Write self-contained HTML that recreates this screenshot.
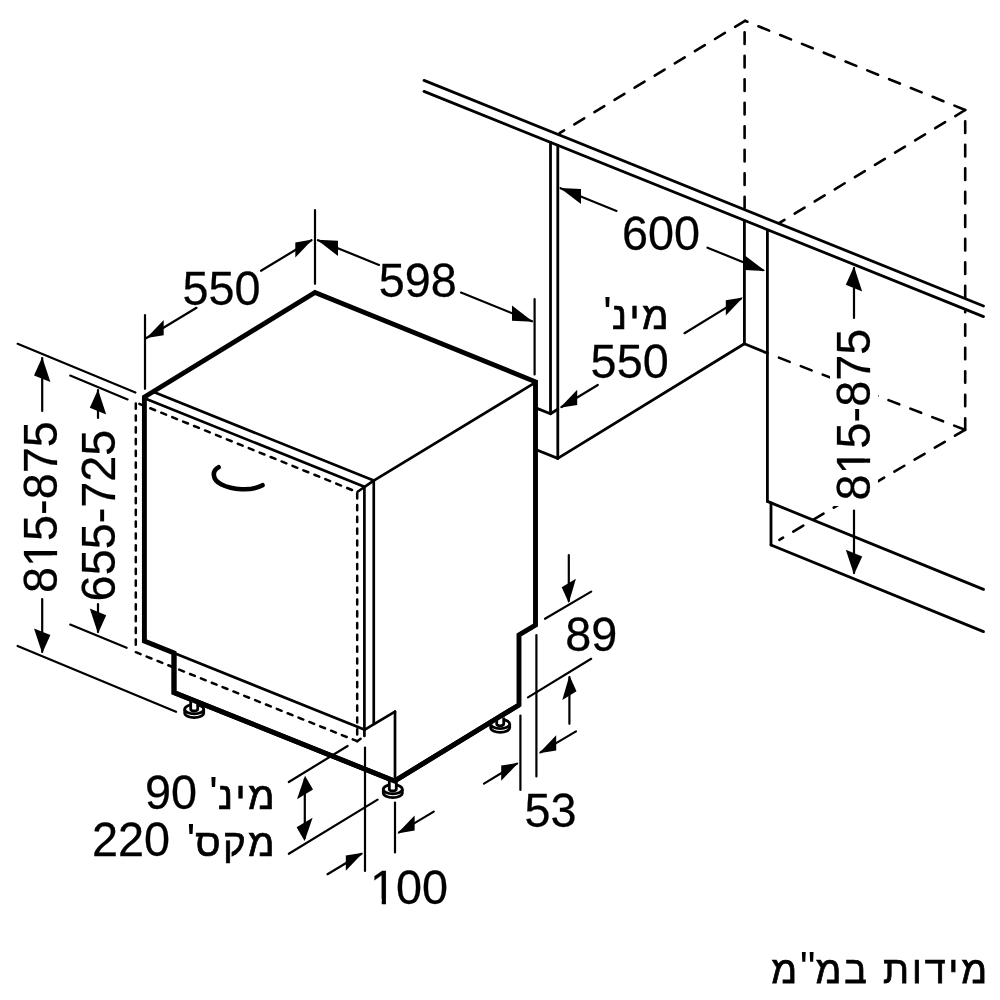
<!DOCTYPE html>
<html lang="he">
<head>
<meta charset="utf-8">
<title>מידות במ"מ</title>
<style>
html,body{margin:0;padding:0;background:#fff;}
body{width:1000px;height:1000px;overflow:hidden;}
svg{display:block;filter:grayscale(1);}
text{font-family:"Liberation Sans",sans-serif;font-size:46.8px;fill:#000;}
.n{stroke:#000;stroke-width:0.25;}
.hl{font-size:38.6px;letter-spacing:2.5px;stroke:#000;stroke-width:0.7;}
.hp{font-size:46.8px;}
.cl{font-size:37.6px;letter-spacing:2.95px;stroke:#000;stroke-width:0.75;}
.cp{font-size:43.5px;}
.k{fill:none;stroke:#000;stroke-width:4.9;stroke-linejoin:miter;stroke-linecap:butt;}
.b{fill:none;stroke:#000;stroke-width:2.7;stroke-linecap:round;}
.c{fill:none;stroke:#000;stroke-width:2.8;stroke-linecap:round;stroke-linejoin:round;}
.d{fill:none;stroke:#000;stroke-width:2.2;stroke-linecap:round;}
.ds{fill:none;stroke:#000;stroke-width:2.5;stroke-dasharray:5.2 6.6;stroke-linecap:round;}
.dl{fill:none;stroke:#000;stroke-width:2.6;stroke-dasharray:11.6 11.9;stroke-linecap:round;}
.h{fill:none;stroke:#000;stroke-width:4.6;stroke-linecap:round;}
.ah{fill:#000;stroke:none;}
.ft path,.ft ellipse{stroke:#000;stroke-width:2.8;}
</style>
</head>
<body>
<svg width="1000" height="1000" viewBox="0 0 1000 1000">
<rect x="0" y="0" width="1000" height="1000" fill="#fff"/>
<polygon class="k" points="315,292.5 535.5,381.8 535.5,625 519,635 519,705 394.5,781 174,692.5 174,653 144.4,641 144.4,397"/>
<line class="b" x1="155" y1="392.5" x2="373.75" y2="480.6"/>
<line class="b" x1="147" y1="399.2" x2="364.4" y2="486.8"/>
<line class="b" x1="373.75" y1="480.6" x2="535.5" y2="382.4"/>
<line class="b" x1="373.75" y1="480.6" x2="364.6" y2="486.8"/>
<line class="b" x1="364.4" y1="486.8" x2="364.4" y2="736"/>
<line class="b" x1="373.75" y1="480.6" x2="373.75" y2="723.4"/>
<line class="b" x1="174" y1="653" x2="364.8" y2="729.8"/>
<line class="b" x1="364.4" y1="729.8" x2="395" y2="711.7"/>
<line class="b" x1="395" y1="711.7" x2="395" y2="781"/>
<path class="ds" d="M135.8,403.6 L135.8,651"/>
<path class="ds" d="M135.8,652.2 L357.2,741.2" style="stroke-dasharray:5.2 6.49"/>
<path class="ds" d="M357,492 L135.8,402.4" style="stroke-dashoffset:6.4"/>
<path class="ds" d="M357.2,493.2 L357.2,736"/>
<path class="ds" d="M357.2,741.2 L360.6,738.8" style="stroke-dasharray:none"/>
<path class="ds" d="M357.6,491.8 L363,488" style="stroke-dasharray:none"/>
<path class="h" d="M218.6,467.2 C211.8,470.6 212,479.8 221,484.2 C232.5,489.9 250.5,491.6 262.5,485.2"/>
<g class="ft">
<path d="M184.7,709.3 v3.7 a9.5,4.6 0 0 0 19,0 v-3.7" fill="#fff"/>
<ellipse cx="194.2" cy="709.3" rx="9.5" ry="4.6" fill="#fff"/>
<path d="M190.7,700.3 v9 a3.5,1.7 0 0 0 7,0 v-9" fill="#fff"/>
</g>
<g class="ft">
<path d="M383.3,789.3 v3.7 a9.5,4.6 0 0 0 19,0 v-3.7" fill="#fff"/>
<ellipse cx="392.8" cy="789.3" rx="9.5" ry="4.6" fill="#fff"/>
<path d="M389.3,780.3 v9 a3.5,1.7 0 0 0 7,0 v-9" fill="#fff"/>
</g>
<g class="ft">
<path d="M490.7,724.1 v3.7 a9.5,4.6 0 0 0 19,0 v-3.7" fill="#fff"/>
<ellipse cx="500.2" cy="724.1" rx="9.5" ry="4.6" fill="#fff"/>
<path d="M496.7,717.6 v6.5 a3.5,1.7 0 0 0 7,0 v-6.5" fill="#fff"/>
</g>
<polyline class="k" points="174,653 174,692.5 394.5,781 519,705"/>
<line class="c" x1="424" y1="80.4" x2="983.5" y2="306"/>
<line class="c" x1="424" y1="91.4" x2="983.5" y2="316.6"/>
<line class="c" x1="550.5" y1="142.5" x2="550.5" y2="413.8"/>
<line class="c" x1="557.8" y1="145.5" x2="557.8" y2="458.4"/>
<polyline class="c" points="537.5,408.6 550.5,413.8 557.8,409.2"/>
<line class="c" x1="537.5" y1="450.2" x2="557.8" y2="458.4"/>
<line class="c" x1="557.8" y1="458.4" x2="744.4" y2="343.8"/>
<line class="c" x1="744.4" y1="221" x2="744.4" y2="343.8"/>
<line class="c" x1="767.4" y1="230.4" x2="767.4" y2="501.4"/>
<line class="c" x1="744.4" y1="343.8" x2="767.4" y2="353.2"/>
<line class="c" x1="767.4" y1="501.4" x2="983.5" y2="589.4"/>
<line class="c" x1="771" y1="503" x2="771" y2="545"/>
<line class="c" x1="771" y1="545" x2="983.5" y2="631.6"/>
<path class="dl" d="M745,20.8 L559.6,133.2"/>
<path class="dl" d="M965.2,110 L745,20.8"/>
<path class="dl" d="M744.6,32.3 L744.6,208.6"/>
<path class="dl" d="M965.2,110 L779,223.2"/>
<path class="dl" d="M965.2,121.3 L965.2,297.4"/>
<path class="dl" d="M965.2,429.8 L965.2,311"/>
<path class="dl" d="M965,429.8 L770.5,354.4"/>
<path class="dl" d="M965,429.8 L779.4,539.8"/>
<line class="d" x1="145" y1="315" x2="145" y2="388.8"/>
<line class="d" x1="315" y1="210" x2="315" y2="283.8"/>
<line class="d" x1="146.5" y1="338" x2="196.5" y2="307.8"/>
<line class="d" x1="261" y1="270.8" x2="311.5" y2="240.2"/>
<polygon class="ah" points="146.5,338 163.7,319.99 163.7,335.19"/>
<polygon class="ah" points="312.5,239.6 295.3,242.41 295.3,257.61"/>
<text class="n" transform="translate(182.4 305) scale(1 1.02)">550</text>
<line class="d" x1="534.6" y1="299" x2="534.6" y2="374.5"/>
<line class="d" x1="318" y1="240.2" x2="379" y2="264.9"/>
<line class="d" x1="461" y1="292.6" x2="532" y2="321.3"/>
<polygon class="ah" points="317,239.8 338,240.71 338,255.91"/>
<polygon class="ah" points="533,321.7 512,305.59 512,320.8"/>
<text class="n" transform="translate(378.8 297.2) scale(1 1.02)">598</text>
<line class="d" x1="560.5" y1="188.2" x2="616.5" y2="210.9"/>
<line class="d" x1="707.5" y1="247.7" x2="763" y2="270.2"/>
<polygon class="ah" points="560,188 581,188.91 581,204.1"/>
<polygon class="ah" points="765.2,271 744.2,254.9 744.2,270.1"/>
<text class="n" transform="translate(622 250) scale(1 1.02)">600</text>
<line class="d" x1="684.5" y1="333.2" x2="741" y2="298.6"/>
<line class="d" x1="561.5" y1="407" x2="597.8" y2="385"/>
<polygon class="ah" points="743,297.4 725.8,300.21 725.8,315.41"/>
<polygon class="ah" points="560,407.8 577.2,389.79 577.2,404.99"/>
<text class="he" direction="rtl" transform="translate(671 329.2)"><tspan class="hl">מינ</tspan><tspan class="hp">'</tspan>&#x200F;</text>
<text class="n" transform="translate(590.6 378.2) scale(1 1.02)">550</text>
<line class="d" x1="854" y1="268" x2="854" y2="318"/>
<line class="d" x1="854" y1="510.5" x2="854" y2="573"/>
<polygon class="ah" points="854,266.6 845.8,284.78 862.2,291.42"/>
<polygon class="ah" points="854,574.6 845.8,549.78 862.2,556.42"/>
<rect x="830" y="324" width="48" height="182" fill="#fff"/>
<text class="n" transform="translate(869.8 500.5) rotate(-90) scale(1 1.02)">815-875</text>
<g fill="#fff" transform="translate(869.8 500.5) rotate(-90) scale(1 1.02)"><rect x="27.9" y="-5" width="9.85" height="7.5"/><rect x="41.98" y="-5" width="9.36" height="7.5"/></g>
<line class="d" x1="17.6" y1="343.8" x2="135.4" y2="392.6"/>
<line class="d" x1="17.6" y1="646" x2="176" y2="711.8"/>
<line class="d" x1="42.2" y1="358" x2="42.2" y2="411"/>
<line class="d" x1="42.2" y1="599" x2="42.2" y2="652"/>
<polygon class="ah" points="42.2,357.2 34,375.38 50.4,382.02"/>
<polygon class="ah" points="42.2,653.2 34,628.38 50.4,635.02"/>
<text class="n" transform="translate(57.4 593) rotate(-90) scale(1 1.02)">815-875</text>
<g fill="#fff" transform="translate(57.4 593) rotate(-90) scale(1 1.02)"><rect x="27.9" y="-5" width="9.85" height="7.5"/><rect x="41.98" y="-5" width="9.36" height="7.5"/></g>
<line class="d" x1="70.2" y1="375.6" x2="127.6" y2="399.4"/>
<line class="d" x1="70.2" y1="624.6" x2="126.6" y2="647.8"/>
<line class="d" x1="98" y1="390" x2="98" y2="418"/>
<line class="d" x1="98" y1="604" x2="98" y2="632"/>
<polygon class="ah" points="98,389.6 89.8,407.78 106.2,414.42"/>
<polygon class="ah" points="98,633.4 89.8,608.58 106.2,615.22"/>
<text class="n" transform="translate(115 601.4) rotate(-90) scale(1 1.02)">655-725</text>
<line class="d" x1="536.4" y1="635" x2="536.4" y2="776.4"/>
<line class="d" x1="568.8" y1="555" x2="568.8" y2="601"/>
<line class="d" x1="545" y1="618.8" x2="591.2" y2="591.6"/>
<line class="d" x1="528" y1="697.4" x2="591.2" y2="658.8"/>
<line class="d" x1="569.4" y1="677" x2="569.4" y2="723.8"/>
<polygon class="ah" points="568.8,603 561.7,587.3 575.9,578.7"/>
<polygon class="ah" points="569.4,675.6 562.3,699.9 576.5,691.3"/>
<text class="n" transform="translate(565.2 651) scale(1 1.02)">89</text>
<line class="d" x1="520.4" y1="715.6" x2="520.4" y2="790"/>
<line class="d" x1="540.5" y1="752.4" x2="576" y2="731.4"/>
<line class="d" x1="484" y1="783.6" x2="517" y2="763.6"/>
<polygon class="ah" points="539,753.2 556.2,735.19 556.2,750.39"/>
<polygon class="ah" points="518.4,762.8 501.2,765.61 501.2,780.81"/>
<text class="n" transform="translate(524.5 827.2) scale(1 1.02)">53</text>
<line class="d" x1="365" y1="747.5" x2="365" y2="871"/>
<line class="d" x1="395" y1="802.5" x2="395" y2="852.5"/>
<line class="d" x1="327.5" y1="874.2" x2="361.5" y2="853.8"/>
<line class="d" x1="399" y1="832.4" x2="433.8" y2="811.6"/>
<polygon class="ah" points="363,852.8 345.8,855.61 345.8,870.81"/>
<polygon class="ah" points="397.4,833.4 414.6,815.39 414.6,830.59"/>
<text class="n" transform="translate(370 904) scale(1 1.02)">100</text>
<g fill="#fff" transform="translate(370 904) scale(1 1.02)"><rect x="1.87" y="-5" width="9.85" height="7.5"/><rect x="15.95" y="-5" width="9.36" height="7.5"/></g>
<line class="d" x1="288.8" y1="782" x2="347.6" y2="746"/>
<line class="d" x1="288.8" y1="853.8" x2="377.6" y2="799.6"/>
<line class="d" x1="304.8" y1="779" x2="304.8" y2="838"/>
<polygon class="ah" points="305,775.8 297,799.14 313,789.46"/>
<polygon class="ah" points="304.6,841 296.6,827.34 312.6,817.66"/>
<text class="he" direction="rtl" transform="translate(277 808.8)"><tspan class="hl">מינ</tspan><tspan class="hp">'</tspan>&#x200F;</text>
<text class="n" text-anchor="end" transform="translate(197 808.8) scale(1 1.02)">90</text>
<text class="he" direction="rtl" transform="translate(277 856.2)"><tspan class="hl">מקס</tspan><tspan class="hp">'</tspan>&#x200F;</text>
<text class="n" text-anchor="end" transform="translate(170 856.2) scale(1 1.02)">220</text>
<text class="cap" direction="rtl" transform="translate(989.9 982.8)"><tspan class="cl">מידות במ</tspan><tspan class="cp">"</tspan><tspan class="cl">מ</tspan></text>
</svg>
</body>
</html>
